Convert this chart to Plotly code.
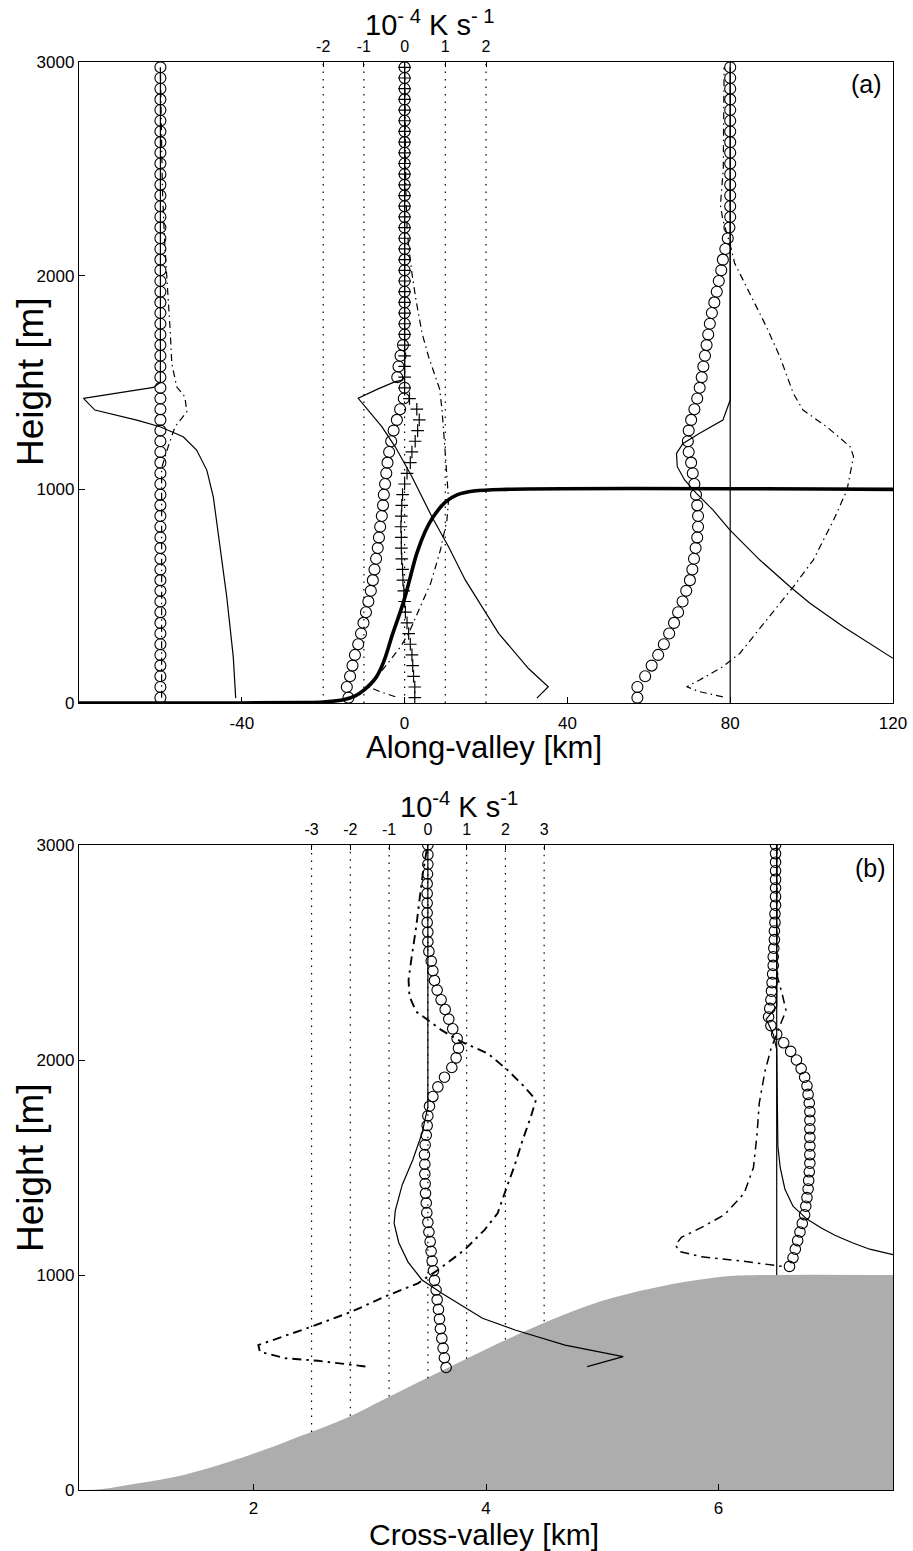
import plotly.graph_objects as go

# ---------------- Panel (a): along-valley ----------------
H_A = [25, 75, 125, 175, 225, 275, 325, 375, 425, 475,
       525, 575, 625, 675, 725, 775, 825, 875, 925, 975,
       1025, 1075, 1125, 1175, 1225, 1275, 1325, 1375, 1425, 1475,
       1525, 1575, 1625, 1675, 1725, 1775, 1825, 1875, 1925, 1975,
       2025, 2075, 2125, 2175, 2225, 2275, 2325, 2375, 2425, 2475,
       2525, 2575, 2625, 2675, 2725, 2775, 2825, 2875, 2925, 2975]

LEFT_CIRC_X = [-60, -60, -60, -60, -60, -60, -60, -60, -60, -60,
               -60, -60, -60, -60, -60, -60, -60, -60, -60, -60,
               -60, -60, -60, -60, -60, -60, -60, -60, -60, -60,
               -60, -60, -60, -60, -60, -60, -60, -60, -60, -60,
               -60, -60, -60, -60, -60, -60, -60, -60, -60, -60,
               -60, -60, -60, -60, -60, -60, -60, -60, -60, -60]

MID_CIRC_X = [-13.8, -14.2, -13.4, -12.8, -12.2, -11.4, -10.7, -10.1, -9.5, -8.9,
              -8.3, -7.8, -7.4, -7.0, -6.6, -6.3, -6.0, -5.6, -5.3, -5.1,
              -4.8, -4.5, -4.2, -3.8, -3.3, -2.7, -1.9, -1.1, -0.2, 0.0,
              -1.8, -1.5, -1.0, -0.4, 0.0, 0.0, 0.0, 0.0, 0.0, 0.0,
              0.0, 0.0, 0.0, 0.0, 0.0, 0.0, 0.0, 0.0, 0.0, 0.0,
              0.0, 0.0, 0.0, 0.0, 0.0, 0.0, 0.0, 0.0, 0.0, 0.0]

MID_PLUS_X = [2.5, 2.5, 2.2, 2.0, 1.8, 1.4, 1.0, 0.6, 0.2, 0.0,
              -0.2, -0.4, -0.5, -0.7, -0.8, -0.8, -0.9, -0.8, -0.7, -0.5,
              0.0, 0.6, 1.4, 1.8, 2.6, 3.2, 3.6, 3.0, 1.2, 0.0,
              0.0, 0.0, 0.0, 0.0, 0.0, 0.0, 0.0, 0.0, 0.0, 0.0,
              0.0, 0.0, 0.0, 0.0, 0.0, 0.0, 0.0, 0.0, 0.0, 0.0,
              0.0, 0.0, 0.0, 0.0, 0.0, 0.0, 0.0, 0.0, 0.0, 0.0]

RIGHT_CIRC_X = [57.2, 57.2, 59.1, 60.7, 62.3, 63.7, 65.0, 66.2, 67.2, 68.3,
                69.2, 70.1, 70.7, 71.1, 71.5, 71.9, 72.1, 72.1, 71.9, 71.6,
                71.2, 70.8, 70.4, 69.8, 69.6, 69.8, 70.4, 71.2, 71.9, 72.5,
                73.0, 73.4, 73.8, 74.2, 74.6, 75.0, 75.5, 76.1, 76.7, 77.2,
                77.8, 78.2, 78.8, 79.4, 79.8, 80.0, 80.0, 80.0, 80.0, 80.0,
                80.0, 80.0, 80.0, 80.0, 80.0, 80.0, 80.0, 80.0, 80.0, 80.0]

LEFT_SOLID_X = [-41.5, -42.1, -43.7, -45.4, -47.0, -48.6, -51.1, -54.4, -60.1, -65.8, -76.1, -78.9, -61.7, -60.0, -60.0]
LEFT_SOLID_H = [23, 217, 497, 731, 965, 1090, 1184, 1246, 1293, 1324, 1371, 1426, 1477, 1500, 2975]

LEFT_DASH_X = [-59.7, -59.7, -58.1, -56.4, -53.5, -54.0, -56.0, -57.2, -57.6, -58.3, -58.9, -59.5, -60.0]
LEFT_DASH_H = [25, 1100, 1199, 1293, 1363, 1433, 1480, 1589, 1745, 1933, 2135, 2400, 2975]

MID_SOLID_X = [32.5, 35.3, 30.5, 26.6, 23.1, 19.0, 14.9, 10.8, 6.7, 1.8, -2.3, -5.6, -8.5, -11.4, -6.5, -2.3, -0.5, 0.0, 0.0]
MID_SOLID_H = [23, 76, 160, 248, 326, 451, 576, 731, 872, 1059, 1199, 1293, 1360, 1426, 1470, 1504, 1511, 1530, 2975]

MID_DASH_X = [-2.3, -6.0, -8.9, -4.8, -1.0, 1.0, 3.5, 6.4, 8.8, 10.4, 10.8, 10.4, 10.0, 9.2, 8.6, 5.9, 4.3, 2.8, 1.8, 1.0, 0.6, 0.3, 0.0]
MID_DASH_H = [29, 53, 76, 170, 263, 326, 435, 560, 716, 856, 950, 1080, 1168, 1371, 1470, 1620, 1730, 1886, 2011, 2135, 2227, 2400, 2975]

RIGHT_SOLID_X = [120.0, 107.8, 99.6, 94.7, 87.3, 79.9, 75.8, 71.7, 68.8, 67.0, 66.8, 68.4, 72.5, 78.2, 80.0, 80.0]
RIGHT_SOLID_H = [209, 357, 467, 544, 669, 810, 903, 981, 1044, 1106, 1168, 1215, 1262, 1324, 1418, 2975]

RIGHT_DASH_X = [78.2, 72.5, 69.3, 72.5, 78.2, 82.4, 88.9, 95.5, 100.4, 105.4, 108.7, 110.3, 109.5, 103.7, 97.9, 95.5, 92.2, 88.9, 84.8, 81.1, 79.9, 78.2, 77.6, 78.3, 78.5]
RIGHT_DASH_H = [29, 53, 76, 108, 170, 233, 388, 544, 669, 856, 997, 1153, 1199, 1293, 1371, 1449, 1621, 1761, 1917, 2058, 2151, 2260, 2330, 2500, 2975]

ZERO_A_X = [80, 80]
ZERO_A_H = [0, 3000]

TERRAIN_A_X = [-80, -40, -25, -20, -15, -12, -10, -7, -5, -3, -1, 0, 1, 3, 5, 7, 10, 13, 17, 25, 120]
TERRAIN_A_H = [0, 0, 2, 5, 15, 35, 60, 120, 200, 320, 430, 490, 560, 700, 800, 870, 940, 975, 992, 1000, 1000]

RATE_TICKS_A = [-2, -1, 0, 1, 2]
RATE_LABELS_A = ["-2", "-1", "0", "1", "2"]

# ---------------- Panel (b): cross-valley ----------------
H_B_MID = [3000, 2955, 2910, 2865, 2820, 2775, 2730, 2685, 2640, 2595, 2550,
           2505, 2460, 2415, 2370, 2325, 2280, 2235, 2190, 2145, 2100,
           2055, 2010, 1965, 1920, 1875, 1830, 1785, 1740, 1695, 1650, 1605,
           1560, 1515, 1470, 1425, 1380, 1335, 1290, 1245, 1200, 1155, 1110, 1065,
           1020, 975, 930, 885, 840, 795, 750, 705, 660, 615, 570]
MID_B_CIRC_X = [3.500, 3.500, 3.500, 3.497, 3.494, 3.494, 3.494, 3.494, 3.494, 3.500, 3.500,
                3.509, 3.529, 3.543, 3.557, 3.580, 3.614, 3.649, 3.680, 3.714, 3.752,
                3.763, 3.743, 3.706, 3.643, 3.586, 3.543, 3.514, 3.500, 3.494, 3.486, 3.477,
                3.471, 3.474, 3.474, 3.477, 3.480, 3.486, 3.491, 3.500, 3.509, 3.520, 3.528, 3.537,
                3.548, 3.557, 3.571, 3.580, 3.591, 3.600, 3.608, 3.620, 3.631, 3.642, 3.657]

H_B_RIGHT = [3000, 2960, 2920, 2880, 2840, 2800, 2760, 2720, 2680, 2640,
             2600, 2560, 2520, 2480, 2440, 2400, 2360, 2320, 2280, 2240,
             2200, 2160, 2120, 2080, 2040, 2000, 1960, 1920, 1880, 1840,
             1800, 1760, 1720, 1680, 1640, 1600, 1560, 1520, 1480, 1440,
             1400, 1360, 1320, 1280, 1240, 1200, 1160, 1120, 1080, 1040]
RIGHT_B_CIRC_X = [6.49, 6.49, 6.49, 6.49, 6.49, 6.49, 6.49, 6.49, 6.485, 6.485,
                  6.48, 6.48, 6.475, 6.47, 6.47, 6.465, 6.46, 6.455, 6.45, 6.44,
                  6.43, 6.45, 6.50, 6.56, 6.62, 6.67, 6.71, 6.74, 6.76, 6.77,
                  6.78, 6.785, 6.785, 6.785, 6.785, 6.785, 6.785, 6.785, 6.78, 6.775,
                  6.77, 6.76, 6.75, 6.74, 6.72, 6.70, 6.68, 6.66, 6.64, 6.61]

MID_B_SOLID_X = [3.5, 3.5, 3.45, 3.37, 3.28, 3.22, 3.21, 3.25, 3.33, 3.45, 3.62, 3.97, 4.25, 4.68, 5.18, 4.87]
MID_B_SOLID_H = [3000, 1783, 1659, 1535, 1420, 1300, 1240, 1150, 1060, 977, 915, 799, 744, 674, 620, 574]

MID_B_DASH_X = [3.49, 3.457, 3.428, 3.400, 3.357, 3.334, 3.342, 3.400, 3.5, 3.614, 3.786, 4.014, 4.186, 4.329, 4.429,
                4.386, 4.315, 4.243, 4.186, 4.100, 3.986, 3.814, 3.586, 3.414, 3.128, 2.843, 2.500, 2.042, 2.056,
                2.271, 2.557, 2.971]
MID_B_DASH_H = [2977, 2868, 2744, 2620, 2465, 2372, 2295, 2225, 2186, 2140, 2085, 2031, 1953, 1876, 1814,
                1736, 1628, 1504, 1420, 1287, 1209, 1116, 1023, 961, 899, 829, 760, 674, 643,
                613, 601, 574]

RIGHT_B_SOLID_X = [6.5, 6.5, 6.41, 6.47, 6.5, 6.51, 6.53, 6.57, 6.64, 6.76, 6.88, 7.0, 7.15, 7.3, 7.5]
RIGHT_B_SOLID_H = [3000, 2250, 2190, 2120, 2050, 1600, 1500, 1400, 1320, 1260, 1220, 1185, 1150, 1120, 1095]

RIGHT_B_DASH_X = [6.5, 6.5, 6.55, 6.58, 6.52, 6.45, 6.40, 6.35, 6.33, 6.30, 6.22, 6.05, 5.85, 5.68, 5.63, 5.66, 5.85, 6.2, 6.55]
RIGHT_B_DASH_H = [3000, 2400, 2300, 2230, 2150, 2050, 1950, 1800, 1650, 1500, 1380, 1280, 1220, 1175, 1140, 1110, 1085, 1065, 1040]

ZERO_B_X = [6.5, 6.5]
ZERO_B_H = [1000, 3000]

TERRAIN_B_X = [0.5, 0.7, 1.0, 1.4, 1.8, 2.1, 2.4, 2.8, 3.1, 3.4, 3.7, 4.0, 4.3, 4.6, 5.0, 5.4, 5.8, 6.1, 6.4, 7.5]
TERRAIN_B_H = [0, 5, 30, 70, 132, 188, 250, 335, 415, 496, 575, 655, 730, 800, 880, 935, 975, 995, 1000, 1000]

RATE_TICKS_B = [-3, -2, -1, 0, 1, 2, 3]
RATE_LABELS_B = ["-3", "-2", "-1", "0", "1", "2", "3"]
DOT_BOTTOM_B = [270, 345, 435, 520, 610, 700, 785]

# ---------------- Figure ----------------
BLACK = "black"
FONT = "Liberation Sans"
W, H = 913, 1551


def px_x(p):
    return p / W


def px_y(p):
    return 1 - p / H


fig = go.Figure()


def line(x, y, xa, ya, dash="solid", width=1.2, cliponaxis=True, shape="linear"):
    fig.add_trace(go.Scatter(x=x, y=y, xaxis=xa, yaxis=ya, mode="lines",
                             line=dict(color=BLACK, width=width, dash=dash, shape=shape),
                             showlegend=False, hoverinfo="skip", cliponaxis=cliponaxis))


def circles(x, y, xa, ya, size=11):
    fig.add_trace(go.Scatter(x=x, y=y, xaxis=xa, yaxis=ya, mode="markers",
                             marker=dict(symbol="circle-open", size=size, color=BLACK,
                                         line=dict(width=1.1, color=BLACK)),
                             showlegend=False, hoverinfo="skip"))


DASHDOT_A = "7px,4px,1.5px,4px"
DASHDOT_B = "9px,5px,2.5px,5px"
DOT = "1.5px,6px"

# panel (a)
line(ZERO_A_X, ZERO_A_H, "x", "y")
line(LEFT_SOLID_X, LEFT_SOLID_H, "x", "y")
line(LEFT_DASH_X, LEFT_DASH_H, "x", "y", dash=DASHDOT_A)
line(MID_SOLID_X, MID_SOLID_H, "x", "y")
line(MID_DASH_X, MID_DASH_H, "x", "y", dash=DASHDOT_A)
line(RIGHT_SOLID_X, RIGHT_SOLID_H, "x", "y")
line(RIGHT_DASH_X, RIGHT_DASH_H, "x", "y", dash=DASHDOT_A)
circles(LEFT_CIRC_X, H_A, "x", "y")
circles(MID_CIRC_X, H_A, "x", "y")
circles(RIGHT_CIRC_X, H_A, "x", "y")
fig.add_trace(go.Scatter(x=MID_PLUS_X, y=H_A, xaxis="x", yaxis="y", mode="markers",
                         marker=dict(symbol="cross-thin-open", size=9, color=BLACK,
                                     line=dict(width=1.2, color=BLACK)),
                         showlegend=False, hoverinfo="skip"))
line(TERRAIN_A_X, TERRAIN_A_H, "x", "y", width=3.6, cliponaxis=False, shape="spline")
for t in RATE_TICKS_A:
    line([t, t], [0, 3000], "x2", "y", dash=DOT, width=1.2)

# panel (b): terrain first so the profiles are drawn over it
fig.add_trace(go.Scatter(x=TERRAIN_B_X, y=TERRAIN_B_H, xaxis="x3", yaxis="y2", mode="lines",
                         fill="tozeroy", fillcolor="#adadad",
                         line=dict(color="#adadad", width=0, shape="spline"),
                         showlegend=False, hoverinfo="skip"))
line(ZERO_B_X, ZERO_B_H, "x3", "y2")
line(MID_B_SOLID_X, MID_B_SOLID_H, "x3", "y2")
line(MID_B_DASH_X, MID_B_DASH_H, "x3", "y2", dash=DASHDOT_B, width=1.9)
line(RIGHT_B_SOLID_X, RIGHT_B_SOLID_H, "x3", "y2")
line(RIGHT_B_DASH_X, RIGHT_B_DASH_H, "x3", "y2", dash=DASHDOT_B, width=1.5)
circles(MID_B_CIRC_X, H_B_MID, "x3", "y2", size=10.5)
circles(RIGHT_B_CIRC_X, H_B_RIGHT, "x3", "y2", size=10.5)
for t, b in zip(RATE_TICKS_B, DOT_BOTTOM_B):
    line([t, t], [b, 3000], "x4", "y2", dash=DOT, width=1.2)

XDOM = [px_x(79), px_x(893)]
axis_common = dict(showline=True, linecolor=BLACK, linewidth=1.3, ticks="inside",
                   tickcolor=BLACK, tickwidth=1.2, showgrid=False, zeroline=False,
                   automargin=False, tickfont=dict(family=FONT, size=17, color=BLACK))
top_font = dict(family=FONT, size=16, color=BLACK)

fig.update_layout(
    width=W, height=H, margin=dict(l=0, r=0, t=0, b=0, pad=0),
    paper_bgcolor="white", plot_bgcolor="white",
    xaxis=dict(domain=XDOM, range=[-80, 120], anchor="y", tickvals=[-40, 0, 40, 80, 120],
               ticktext=["-40", "0", "40", "80", "120"],
               ticklen=6, ticklabelstandoff=4, **axis_common),
    xaxis2=dict(overlaying="x", side="top", anchor="y", range=[-8, 12], tickvals=RATE_TICKS_A,
                ticktext=RATE_LABELS_A, ticklen=5, ticklabelstandoff=2,
                **{**axis_common, "tickfont": top_font}),
    yaxis=dict(domain=[px_y(703), px_y(62)], range=[0, 3000], anchor="x",
               tickvals=[0, 1000, 2000, 3000], ticklen=6, mirror=True, **axis_common),
    xaxis3=dict(domain=XDOM, range=[0.5, 7.5], anchor="y2", tickvals=[2, 4, 6],
                ticklen=6, ticklabelstandoff=2, **axis_common),
    xaxis4=dict(overlaying="x3", side="top", anchor="y2", range=[-9, 12], tickvals=RATE_TICKS_B,
                ticktext=RATE_LABELS_B, ticklen=5, ticklabelstandoff=2,
                **{**axis_common, "tickfont": top_font}),
    yaxis2=dict(domain=[px_y(1490), px_y(845)], range=[0, 3000], anchor="x3",
                tickvals=[0, 1000, 2000, 3000], ticklen=6, mirror=True, **axis_common),
)


def ann(text, x, y, size, angle=0):
    fig.add_annotation(text=text, x=px_x(x), y=px_y(y), xref="paper", yref="paper",
                       showarrow=False, xanchor="center", yanchor="middle", textangle=angle,
                       font=dict(family=FONT, size=size, color=BLACK))


ann("10<sup>- 4</sup> K s<sup>- 1</sup>", 430, 23, 29)
ann("10<sup>-4</sup> K s<sup>-1</sup>", 459, 805, 29)
ann("Along-valley [km]", 484, 747, 31)
ann("Cross-valley [km]", 484, 1534, 30)
ann("Height [m]", 30, 382, 37, angle=-90)
ann("Height [m]", 30, 1168, 37, angle=-90)
ann("(a)", 866, 84, 25)
ann("(b)", 870, 868, 25)

fig.write_html("out.html", config={"displayModeBar": False},
               post_script="document.body.style.margin='0px';document.body.style.overflow='hidden';")
